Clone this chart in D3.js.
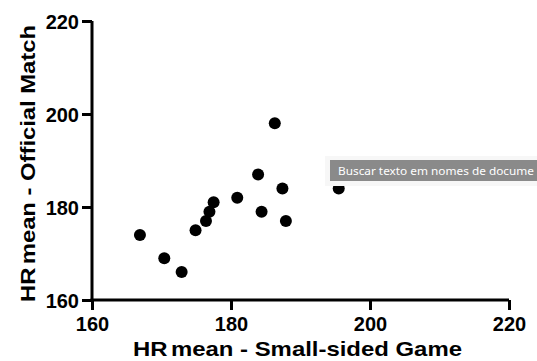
<!DOCTYPE html>
<html>
<head>
<meta charset="utf-8">
<script src="https://cdn.jsdelivr.net/npm/d3@7"></script>
<style>
  body { margin: 0; background: #fff; }
  text { font-family: "Liberation Sans", Arial, sans-serif; font-weight: bold; }
</style>
</head>
<body>
<div id="chart"></div>
<script>
// HR mean values, small-sided game (x) vs official match (y)
var ssgValues = [186.3, 183.9, 187.4, 180.9, 177.5, 176.9, 176.4, 184.4, 187.9, 174.9, 166.9, 170.4, 172.9, 195.5];
var matchValues = [198, 187, 184, 182, 181, 179, 177, 179, 177, 175, 174, 169, 166, 184];
var xTicks = [160, 180, 200, 220];
var yTicks = [160, 180, 200, 220];

var width = 537, height = 361;

var svg = d3.select('#chart')
    .append('svg')
    .attr('width', width)
    .attr('height', height);

var x = d3.scaleLinear().domain([160, 220]).range([92, 509]);
var y = d3.scaleLinear().domain([160, 220]).range([300, 21]);

var data = ssgValues.map(function(d, i){ return {x: d, y: matchValues[i]}; });

// axes
var xAxis = svg.append('g')
    .attr('transform', 'translate(0,300)')
    .call(d3.axisBottom(x).tickValues(xTicks).tickSize(10).tickPadding(7));

var yAxis = svg.append('g')
    .attr('transform', 'translate(92,0)')
    .call(d3.axisLeft(y).tickValues(yTicks).tickSize(10).tickPadding(3));

[xAxis, yAxis].forEach(function(g){
    g.select('.domain').attr('stroke', '#000').attr('stroke-width', 3);
    g.selectAll('.tick line').attr('stroke', '#000').attr('stroke-width', 3);
    g.selectAll('.tick text')
        .attr('fill', '#000')
        .style('font-size', '20px')
        .style('font-family', '"Liberation Sans", Arial, sans-serif')
        .style('font-weight', 'bold');
});
xAxis.select('.domain').attr('d', 'M' + (x(160) - 1.5) + ',0H' + x(220));
yAxis.select('.domain').attr('d', 'M0,' + (y(160) + 1.5) + 'V' + y(220));
yAxis.selectAll('.tick text').attr('dy', '0.36em');

// points
svg.selectAll('circle')
    .data(data)
    .enter()
    .append('circle')
    .attr('cx', function(d){ return x(d.x); })
    .attr('cy', function(d){ return y(d.y); })
    .attr('r', 6)
    .attr('fill', '#000');

// axis titles
var xTitle = svg.append('text')
    .attr('x', 133)
    .attr('y', 356)
    .attr('textLength', 329)
    .attr('lengthAdjust', 'spacingAndGlyphs')
    .style('font-size', '21px')
    .attr('fill', '#000');
xTitle.append('tspan').text('HR');
xTitle.append('tspan').attr('dx', 3).text('mean - Small-sided Game');

var yTitle = svg.append('text')
    .attr('transform', 'translate(35,302) rotate(-90)')
    .attr('textLength', 277)
    .attr('lengthAdjust', 'spacingAndGlyphs')
    .style('font-size', '21px')
    .attr('fill', '#000');
yTitle.append('tspan').text('HR');
yTitle.append('tspan').attr('dx', 3).text('mean - Official Match');

// tooltip overlay from the screenshot
var tip = svg.append('g').attr('transform', 'translate(330,160)');
tip.append('rect')
    .attr('x', -5).attr('y', -4)
    .attr('width', 220).attr('height', 30)
    .attr('fill', '#f7f7f7');
tip.append('rect')
    .attr('width', 210).attr('height', 21)
    .attr('fill', '#8a8a8a');
tip.append('text')
    .attr('x', 8).attr('y', 14.5)
    .attr('textLength', 196)
    .attr('lengthAdjust', 'spacingAndGlyphs')
    .attr('fill', '#fff')
    .style('font-weight', 'normal')
    .style('font-family', '"Noto Sans", "DejaVu Sans", sans-serif')
    .style('font-size', '11px')
    .text('Buscar texto em nomes de docume');
</script>
</body>
</html>
